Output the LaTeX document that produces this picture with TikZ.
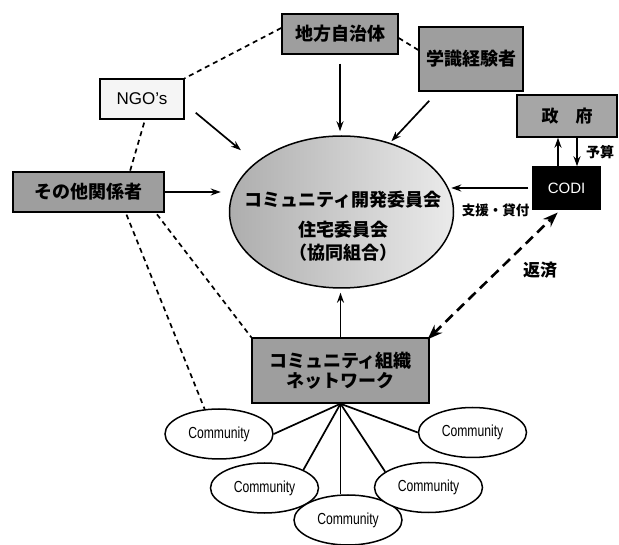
\documentclass[tikz,border=0pt]{standalone}
\usepackage{fontspec}
\usepackage{graphicx}
\usetikzlibrary{arrows.meta,shapes.geometric}
\newfontfamily\jp{Noto Sans CJK JP}
\newfontfamily\lat{Liberation Sans}
\newcommand\commtext{\scalebox{0.76}[1]{Community}}
\begin{document}
\begin{tikzpicture}[x=1pt,y=1pt,
  jpfont/.style={font=\jp\bfseries\fontsize{18}{20}\selectfont},
  box/.style={draw, line width=1.5pt, fill=black!38, inner sep=0pt, jpfont, align=center},
  comm/.style={ellipse, draw, line width=1.5pt, fill=white, minimum width=108pt, minimum height=50pt, inner sep=0pt, font=\lat\fontsize{16}{16}\selectfont},
  arr/.style={line width=1.7pt, -{Stealth[length=10pt,width=7pt]}},
  dsh/.style={line width=1.7pt, dash pattern=on 5pt off 4pt},
  bigdash/.style={line width=2.6pt, dash pattern=on 10pt off 6pt, {Stealth[length=15pt,width=11pt]}-{Stealth[length=15pt,width=11pt]}},
  fan/.style={line width=1.7pt},
  lbl/.style={inner sep=0pt}]
\useasboundingbox (0,0) rectangle (619,544);

% boxes
\node[box, minimum width=116pt, minimum height=40pt] (chiho) at (340,510) {地方自治体};
\node[box, minimum width=104pt, minimum height=64pt] (gak) at (471,485) {学識経験者};
\node[box, fill=black!4, minimum width=84pt, minimum height=40pt, font=\lat\fontsize{17}{17}\selectfont] (ngo) at (142,445) {NGO’s};
\node[box, fill=black!35, minimum width=100pt, minimum height=42pt, font=\jp\bfseries\fontsize{17}{17}\selectfont] (seifu) at (567,428) {政　府};
\node[box, fill=black, text=white, minimum width=67pt, minimum height=42pt, font=\lat\fontsize{15}{15}\selectfont] (codi) at (566.5,356) {CODI};
\node[box, minimum width=151pt, minimum height=40pt] (sonota) at (88.5,352) {その他関係者};
\node[ellipse, draw, line width=1.5pt, left color=black!32, right color=black!8, minimum width=224pt, minimum height=152pt, inner sep=0pt] (ell) at (341.5,332) {};
\node[lbl, jpfont, align=center, font=\jp\bfseries\fontsize{18}{23}\selectfont] (etext) at (343,318) {コミュニティ開発委員会\\[7pt]住宅委員会\\（協同組合）};
\node[box, minimum width=177pt, minimum height=65pt] (net) at (340.5,173.5) {コミュニティ組織\\ネットワーク};

% communities
\node[comm] (c1) at (219,110) {\commtext};
\node[comm] (c2) at (264.5,56) {\commtext};
\node[comm] (c3) at (348,24) {\commtext};
\node[comm] (c4) at (428.5,56.5) {\commtext};
\node[comm] (c5) at (472.5,111.5) {\commtext};

% labels
\node[lbl, font=\jp\bfseries\fontsize{14}{14}\selectfont] (yosan) at (600,392) {予算};
\node[lbl, font=\jp\bfseries\fontsize{13.5}{14}\selectfont] (shien) at (495.5,334) {支援・貸付};
\node[lbl, font=\jp\bfseries\fontsize{17}{17}\selectfont] (hensai) at (540,274) {返済};

% solid arrows into the ellipse
\draw[arr, shorten <=9pt, shorten >=4pt] (chiho.south) -- (chiho.south |- ell.north);
\draw[arr, shorten >=2pt] ([shift={(11,-9)}]gak.south west) -- (ell.55);
\draw[arr, shorten >=19pt] ([shift={(11,7)}]ngo.south east) -- (ell.150);
\draw[arr, shorten >=8pt] (sonota.east) -- (sonota.east -| ell.west);
\draw[arr, shorten <=4pt, shorten >=-3pt] (codi.west) -- (codi.west -| ell.east);
\draw[arr, shorten >=4pt] (net.north) -- (net.north |- ell.south);

% CODI <-> government
\coordinate (u1) at ([xshift=-8.5pt]codi.north);
\coordinate (u2) at (u1 |- seifu.south);
\coordinate (d1) at ([xshift=10.5pt]codi.north);
\coordinate (d2) at (d1 |- seifu.south);
\draw[arr] (u1) -- (u2);
\draw[arr] (d2) -- (d1);

% repayment
\draw[bigdash, shorten <=-3pt, shorten >=4pt] (net.north east) -- ([xshift=-6pt]codi.south);

% dashed relations
\draw[dsh] ([yshift=6pt]chiho.west) -- (ngo.north east);
\draw[dsh] ([yshift=-4pt]chiho.east) -- ([yshift=9pt]gak.west);
\draw[dsh, shorten <=3pt] ([xshift=3pt]ngo.south) -- ([xshift=41.5pt]sonota.north);
\draw[dsh, shorten <=2pt] ([xshift=-9pt]sonota.south east) -- (net.north west);
\draw[dsh, shorten <=2pt] ([xshift=-39pt]sonota.south east) -- (c1.120);

% network fan
\draw[fan] (net.south) -- (c1.east);
\draw[fan] (net.south) -- (c2.25);
\draw[fan] (net.south) -- (net.south |- c3.north);
\draw[fan] (net.south) -- (c4.160);
\draw[fan] (net.south) -- (c5.west);
\end{tikzpicture}
\end{document}
